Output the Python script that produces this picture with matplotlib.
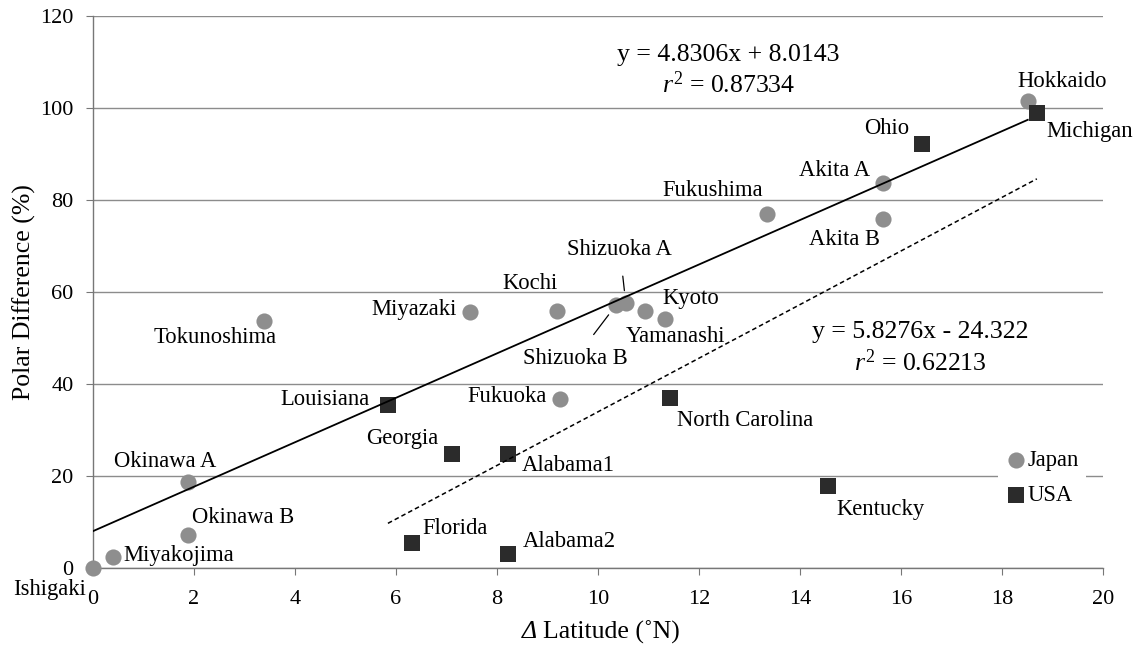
import matplotlib
matplotlib.use('Agg')
import matplotlib.pyplot as plt
import numpy as np

plt.rcParams['font.family'] = ['Liberation Serif', 'DejaVu Serif']
plt.rcParams['mathtext.fontset'] = 'custom'
plt.rcParams['mathtext.rm'] = 'Liberation Serif'
plt.rcParams['mathtext.it'] = 'Liberation Serif:italic'

# Japan sites: delta latitude (deg N) vs polar difference (%)
japan_names = ['Ishigaki', 'Miyakojima', 'Okinawa B', 'Okinawa A', 'Tokunoshima',
               'Miyazaki', 'Kochi', 'Shizuoka A', 'Shizuoka B', 'Kyoto',
               'Yamanashi', 'Fukuoka', 'Fukushima', 'Akita A', 'Akita B',
               'Hokkaido']
japan_lat = [0.0, 0.4, 1.88, 1.88, 3.39, 7.47, 9.19, 10.55, 10.36, 10.93,
             11.33, 9.25, 13.35, 15.64, 15.64, 18.51]
japan_diff = [0.0, 2.5, 7.2, 18.7, 53.7, 55.7, 55.9, 57.6, 57.2, 55.9,
              54.1, 36.7, 77.0, 83.7, 75.9, 101.5]

# USA sites
usa_names = ['Louisiana', 'Georgia', 'Alabama1', 'Florida', 'Alabama2',
             'North Carolina', 'Kentucky', 'Ohio', 'Michigan']
usa_lat = [5.84, 7.11, 8.22, 6.32, 8.22, 11.43, 14.55, 16.42, 18.69]
usa_diff = [35.4, 24.8, 24.8, 5.4, 3.0, 37.0, 17.8, 92.2, 98.9]

# regression coefficients printed on the chart
japan_fit = (4.8306, 8.0143, 0.87334)
usa_fit = (5.8276, -24.322, 0.62213)

# label placement (offset in pixels from the marker, horizontal alignment)
label_pos = {
    'Ishigaki': (-7, -21, 'right'), 'Miyakojima': (10, 1, 'left'),
    'Okinawa B': (4, 17, 'left'), 'Okinawa A': (-23, 20, 'center'),
    'Tokunoshima': (-49, -17, 'center'), 'Miyazaki': (-13, 2, 'right'),
    'Kochi': (-27, 27, 'center'), 'Kyoto': (17, 12, 'left'),
    'Yamanashi': (10, -17, 'center'), 'Fukuoka': (-13, 3, 'right'),
    'Fukushima': (-54, 23, 'center'), 'Akita A': (-13, 12, 'right'),
    'Akita B': (-38, -21, 'center'), 'Hokkaido': (34, 20, 'center'),
    'Louisiana': (-18, 6, 'right'), 'Georgia': (-50, 15, 'center'),
    'Alabama1': (14, -12, 'left'), 'Florida': (10, 15, 'left'),
    'Alabama2': (15, 13, 'left'), 'North Carolina': (7, -23, 'left'),
    'Kentucky': (9, -23, 'left'), 'Ohio': (-13, 15, 'right'),
    'Michigan': (10, -18, 'left'),
}
leader_pos = {'Shizuoka A': (-6, 54), 'Shizuoka B': (-41, -54)}

W, H = 1136, 645
fig = plt.figure(figsize=(W / 100, H / 100), dpi=100)
ax = fig.add_axes([93 / W, 1 - 568 / H, 1010 / W, 552 / H])

LBL = 16.3
EQ = 18.5

grid_c = '#8c8c8c'
ax.set_xlim(0, 20)
ax.set_ylim(0, 120)
ax.set_xticks(np.arange(0, 21, 2))
ax.set_yticks(np.arange(0, 121, 20))
ax.yaxis.grid(True, color=grid_c, lw=1.0)
ax.set_axisbelow(True)
for s in ['top', 'right']:
    ax.spines[s].set_visible(False)
for s in ['left', 'bottom']:
    ax.spines[s].set_color('#777777')
    ax.spines[s].set_linewidth(1.0)
ax.tick_params(axis='both', direction='out', length=5, color='#777777',
               labelsize=16)
ax.tick_params(axis='x', pad=11)
ax.tick_params(axis='y', pad=9)

ax.scatter(japan_lat, japan_diff, s=135, marker='o', color='#8e8e8e',
           zorder=3, label='Japan', linewidths=0, clip_on=False)
ax.scatter(usa_lat, usa_diff, s=125, marker='s', color='#2b2b2b',
           zorder=3, label='USA', linewidths=0, clip_on=False)

# fit lines across each series' range
xj = np.array([min(japan_lat), max(japan_lat)])
ax.plot(xj, japan_fit[0] * xj + japan_fit[1], color='black', lw=1.3, zorder=4)
xu = np.array([min(usa_lat), max(usa_lat)])
ax.plot(xu, usa_fit[0] * xu + usa_fit[1], color='black', lw=1.1,
        dashes=(3, 2), zorder=4)

names = japan_names + usa_names
xs = japan_lat + usa_lat
ys = japan_diff + usa_diff
for n, x, y in zip(names, xs, ys):
    if n in label_pos:
        dx, dy, ha = label_pos[n]
        ax.annotate(n, (x, y), xytext=(dx, dy), textcoords='offset pixels',
                    ha=ha, va='center', fontsize=LBL, zorder=5)
    elif n in leader_pos:
        dx, dy = leader_pos[n]
        ax.annotate(n, (x, y), xytext=(dx, dy), textcoords='offset pixels',
                    ha='center', va='center', fontsize=LBL, zorder=5,
                    arrowprops=dict(arrowstyle='-', color='black', lw=0.9,
                                    shrinkA=10, shrinkB=9))

fig.text(728 / W, 1 - 55 / H, 'y = %.4fx + %.4f' % japan_fit[:2],
         ha='center', va='center', fontsize=EQ)
fig.text(729 / W, 1 - 85 / H, r'$\mathit{r}^2$ = %.5f' % japan_fit[2],
         ha='center', va='center', fontsize=EQ)
fig.text(920 / W, 1 - 332 / H, 'y = %.4fx - %.3f' % (usa_fit[0], -usa_fit[1]),
         ha='center', va='center', fontsize=EQ)
fig.text(920 / W, 1 - 363 / H, r'$\mathit{r}^2$ = %.5f' % usa_fit[2],
         ha='center', va='center', fontsize=EQ)

leg = ax.legend(loc='center left', bbox_to_anchor=(0.896, 0.163),
                frameon=True, fontsize=LBL, handletextpad=0.0,
                handlelength=1.0, borderpad=0.3, labelspacing=0.65,
                borderaxespad=0)
leg.get_frame().set_facecolor('white')
leg.get_frame().set_edgecolor('none')
leg.get_frame().set_alpha(1)

ax.set_ylabel('Polar Difference (%)', fontsize=EQ, labelpad=3)
# x label: italic delta followed by upright text
fig.text(537 / W, 1 - 632 / H, 'Δ', style='italic', ha='right', va='center',
         fontsize=EQ)
fig.text(543 / W, 1 - 632 / H, 'Latitude (˚N)', ha='left', va='center',
         fontsize=EQ)

fig.savefig('out.png', dpi=100)
